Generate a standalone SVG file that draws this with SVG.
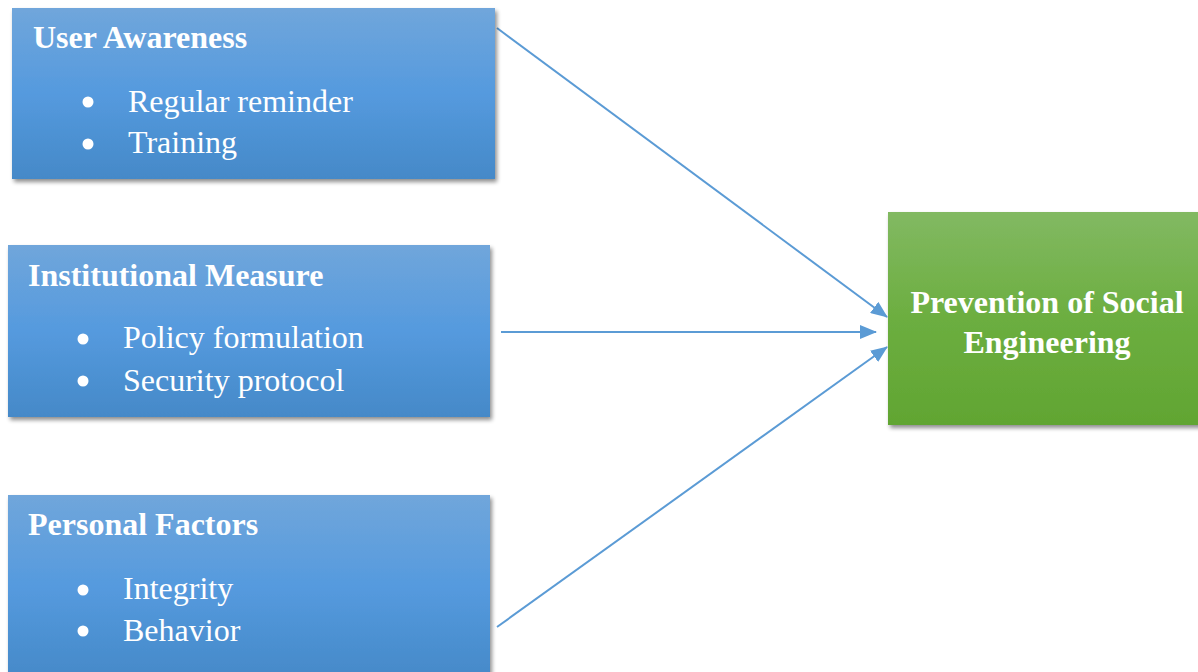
<svg xmlns="http://www.w3.org/2000/svg" width="1198" height="672" viewBox="0 0 1198 672">
<defs>
<linearGradient id="gb" x1="0" y1="0" x2="0" y2="1"><stop offset="0" stop-color="#70a6db"/><stop offset="0.5" stop-color="#559ade"/><stop offset="1" stop-color="#4589c8"/></linearGradient>
<linearGradient id="gg" x1="0" y1="0" x2="0" y2="1"><stop offset="0" stop-color="#82b962"/><stop offset="0.5" stop-color="#6cae40"/><stop offset="1" stop-color="#61a532"/></linearGradient>
<filter id="sh" x="-5%" y="-5%" width="115%" height="115%"><feGaussianBlur in="SourceAlpha" stdDeviation="2"/><feOffset dx="2" dy="3"/><feComponentTransfer><feFuncA type="linear" slope="0.45"/></feComponentTransfer><feMerge><feMergeNode/><feMergeNode in="SourceGraphic"/></feMerge></filter>
<marker id="ah" markerWidth="17" markerHeight="14" refX="16" refY="7" orient="auto" markerUnits="userSpaceOnUse"><path d="M0,0 L17,7 L0,14 Z" fill="#5b9bd5"/></marker>
</defs>
<style>
.t{font-family:"Liberation Serif",serif;font-weight:bold;font-size:32px;fill:#fff}
.b{font-family:"Liberation Serif",serif;font-size:32px;fill:#fff}
.c{stroke:#5b9bd5;stroke-width:2;fill:none;marker-end:url(#ah)}
</style>
<g id="connectors">
<line class="c" x1="497" y1="28" x2="887" y2="317"/>
<line class="c" x1="501" y1="332" x2="876" y2="332"/>
<line class="c" x1="497" y1="627" x2="887" y2="347"/>
</g>
<g id="user-awareness">
<rect x="12" y="8" width="483" height="171" fill="url(#gb)" filter="url(#sh)"/>
<text class="t" x="33" y="48">User Awareness</text>
<circle cx="88" cy="102" r="5.5" fill="#fff"/><text class="b" x="128" y="112">Regular reminder</text>
<circle cx="88" cy="144" r="5.5" fill="#fff"/><text class="b" x="128" y="153">Training</text>
</g>
<g id="institutional-measure">
<rect x="8" y="245" width="482" height="172" fill="url(#gb)" filter="url(#sh)"/>
<text class="t" x="28" y="286">Institutional Measure</text>
<circle cx="83" cy="339" r="5.5" fill="#fff"/><text class="b" x="123" y="348">Policy formulation</text>
<circle cx="83" cy="381" r="5.5" fill="#fff"/><text class="b" x="123" y="391">Security protocol</text>
</g>
<g id="personal-factors">
<rect x="8" y="495" width="482" height="185" fill="url(#gb)" filter="url(#sh)"/>
<text class="t" x="28" y="535">Personal Factors</text>
<circle cx="83" cy="590" r="5.5" fill="#fff"/><text class="b" x="123" y="599">Integrity</text>
<circle cx="83" cy="631" r="5.5" fill="#fff"/><text class="b" x="123" y="641">Behavior</text>
</g>
<g id="prevention">
<rect x="888" y="212" width="320" height="213" fill="url(#gg)" filter="url(#sh)"/>
<text class="t" x="1047" y="313" text-anchor="middle">Prevention of Social</text>
<text class="t" x="1047" y="353" text-anchor="middle">Engineering</text>
</g>
</svg>
